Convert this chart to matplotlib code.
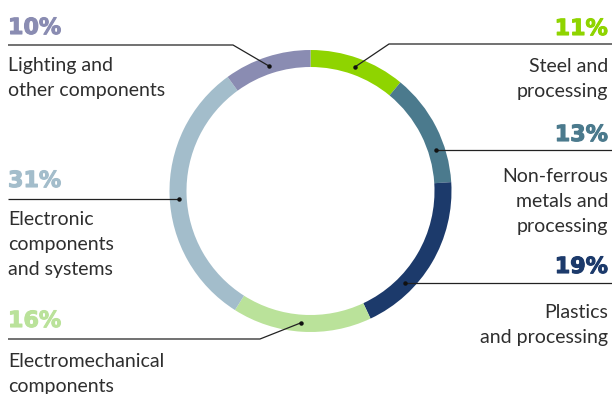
import matplotlib
matplotlib.use("Agg")
import matplotlib.pyplot as plt
import matplotlib.patheffects as pe
import numpy as np

# Material shares (percent), clockwise from 12 o'clock
categories = [
    "Steel and\nprocessing",
    "Non-ferrous\nmetals and\nprocessing",
    "Plastics\nand processing",
    "Electromechanical\ncomponents",
    "Electronic\ncomponents\nand systems",
    "Lighting and\nother components",
]
shares = [11, 13, 19, 16, 31, 10]
colors = ["#8fd400", "#4b7a8d", "#1c3a6b", "#bae29a", "#a3bdcb", "#8a8cb2"]

W, H = 612, 394
fig = plt.figure(figsize=(W / 100, H / 100), dpi=100)
ax = fig.add_axes([0, 0, 1, 1])

cx, cy = 310.5, H - 191
r_out, ring = 141, 17
ax.pie(shares, colors=colors, startangle=90, counterclock=False,
       center=(cx, cy), radius=r_out,
       wedgeprops=dict(width=ring, linewidth=0))
ax.set_xlim(0, W)
ax.set_ylim(0, H)
ax.set_aspect("equal")
ax.axis("off")

# Label layout: (side, anchor angle on ring, leader elbow x, leader y, pct baseline, first text baseline)
layout = [
    ("right", 70.2, 389, 44, 35, 72),
    ("right", 18.0, None, 150, 141, 182),
    ("right", -44.0, None, 283, 273, 318),
    ("left", -94.0, 260, 339, 327, 367),
    ("left", 183.5, None, 199, 187, 225),
    ("left", 108.5, 233, 45, 34, 71),
]

r_mid = r_out - ring / 2 - 0.5
txt_col = "#2e2e2e"
line_h = 25
for cat, val, col, (side, ang, elbow, ly, pb, tb) in zip(categories, shares, colors, layout):
    ax_ = cx + r_mid * np.cos(np.radians(ang))
    ay_ = cy + r_mid * np.sin(np.radians(ang))
    yl = H - ly
    xe = elbow if elbow is not None else ax_
    if side == "right":
        xs = [ax_, xe, W]
        tx, ha = W - 4, "right"
    else:
        xs = [ax_, xe, 8]
        tx, ha = 8, "left"
    ax.plot(xs, [ay_, yl, yl], color="#222222", lw=0.9, solid_capstyle="butt")
    ax.plot([ax_], [ay_], "o", color="#111111", ms=2.2)
    ax.text(tx, H - pb, f"{val}%", color=col, fontsize=16, fontweight="bold",
            family="DejaVu Sans", ha=ha, va="baseline",
            path_effects=[pe.withStroke(linewidth=0.8, foreground=col)])
    for i, line in enumerate(cat.split("\n")):
        ax.text(tx, H - (tb + i * line_h), line, color=txt_col, fontsize=14,
                fontweight="normal", family="Lato", ha=ha, va="baseline")

fig.savefig("out.png", dpi=100)
